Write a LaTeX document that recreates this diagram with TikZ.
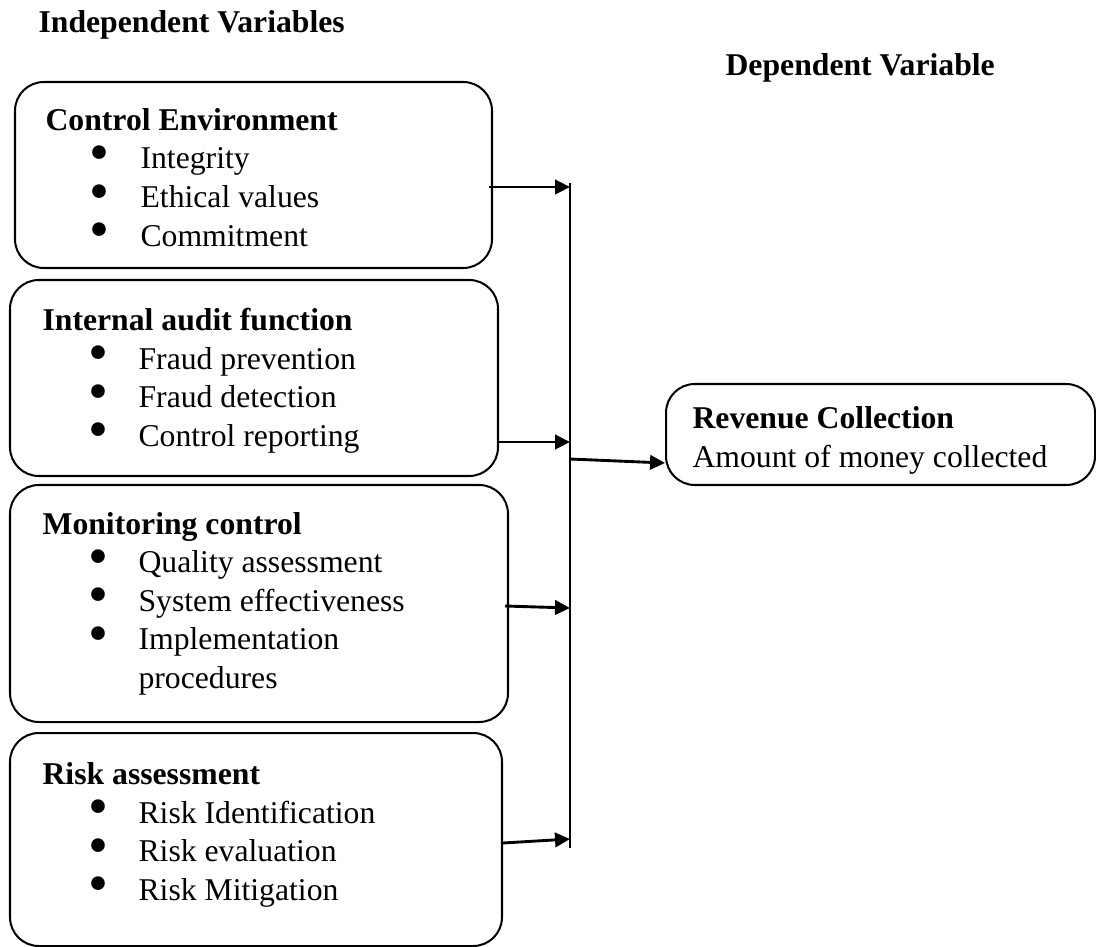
\documentclass[tikz,border=0pt]{standalone}
\usepackage{fontspec}
\usepackage{graphicx}
\setmainfont{Liberation Serif}
\usetikzlibrary{arrows.meta, positioning, fit}

\newlength{\pxu}
\setlength{\pxu}{0.347pt}
% bullet line: bullet offset, text offset, text
\newcommand{\bitem}[3]{\makebox[#2\pxu][l]{\hspace*{#1\pxu}\raisebox{-1pt}[0pt][0pt]{\scalebox{1.8}{\textbullet}}}#3}

\begin{document}
\begin{tikzpicture}[x=0.347pt, y=-0.347pt,
    box/.style={draw, line width=0.7pt, rounded corners=10pt, inner sep=0pt},
    txt/.style={anchor=base west, align=left, inner sep=0pt, font=\fontsize{11}{13.36}\selectfont},
    arr/.style={-{Triangle[length=5.2pt, width=5pt]}, line width=1pt}]
    \useasboundingbox (0,0) rectangle (1096,947);

    \node (indep) [txt] at (38,33) {\textbf{Independent Variables}};
    \node (dep) [txt] at (725,76) {\textbf{Dependent Variable}};

    % boxes
    \node (ce) [box, fit={(15,82) (492,268)}] {};
    \node (ia) [box, fit={(10,280) (498,476)}] {};
    \node (mc) [box, fit={(10,485) (508,722)}] {};
    \node (ra) [box, fit={(10,733) (502,946)}] {};
    \node (rc) [box, fit={(666,384) (1095,485)}] {};

    % texts (anchored at the baseline of the last line)
    \node (cetext) [txt] at (45,246) {\textbf{Control Environment}\\
      \bitem{44}{95}{Integrity}\\
      \bitem{44}{95}{Ethical values}\\
      \bitem{44}{95}{Commitment}};
    \node (iatext) [txt] at (42,446) {\textbf{Internal audit function}\\
      \bitem{46}{96}{Fraud prevention}\\
      \bitem{46}{96}{Fraud detection}\\
      \bitem{46}{96}{Control reporting}};
    \node (mctext) [txt] at (42,688) {\textbf{Monitoring control}\\
      \bitem{46}{96}{Quality assessment}\\
      \bitem{46}{96}{System effectiveness}\\
      \bitem{46}{96}{Implementation}\\
      \hspace*{96\pxu}procedures};
    \node (ratext) [txt] at (42,900) {\textbf{Risk assessment}\\
      \bitem{46}{96}{Risk Identification}\\
      \bitem{46}{96}{Risk evaluation}\\
      \bitem{46}{96}{Risk Mitigation}};
    \node (rctext) [txt] at (692,467) {\textbf{Revenue Collection}\\
      Amount of money collected};

    % collecting line
    \coordinate (bt) at (570,183);
    \coordinate (bb) at (570,848);
    \coordinate (in1) at (570,187);
    \coordinate (in2) at (570,442);
    \coordinate (in3) at (570,608);
    \coordinate (in4) at (570,839);
    \coordinate (out) at (570,459);
    \draw [line width=0.75pt] (bt) -- (bb);

    \draw [arr] ([xshift=-4\pxu]ce.east |- in1) -- (in1);
    \draw [arr] (ia.east |- in2) -- (in2);
    \draw [arr] ([xshift=-4\pxu, yshift=2\pxu]mc.east |- in3) -- (in3);
    \draw [arr] ([yshift=-4\pxu]ra.east |- in4) -- (in4);
    \draw [arr] (out) -- ([yshift=-4\pxu]rc.west |- out);
\end{tikzpicture}
\end{document}
